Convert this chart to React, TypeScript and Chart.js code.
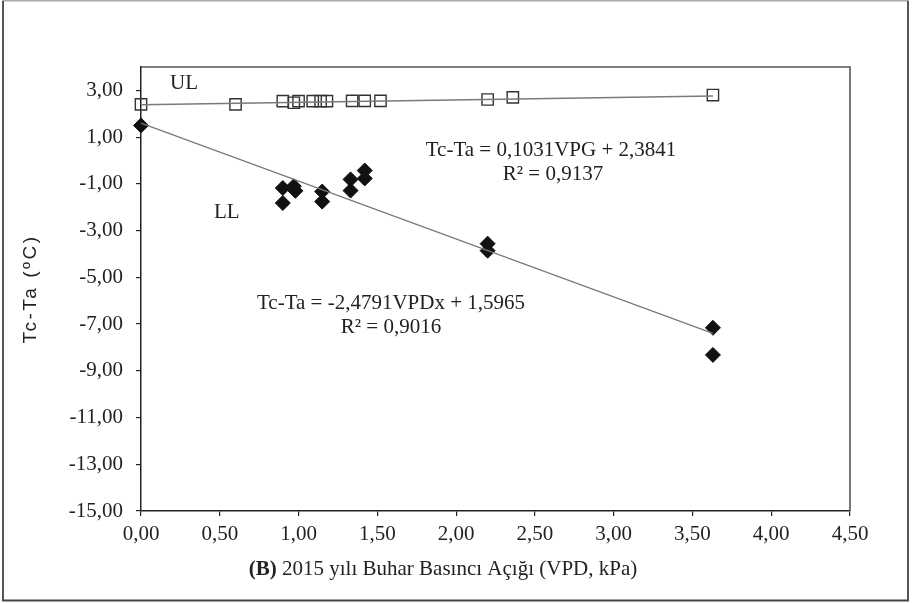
import { useEffect, useRef } from "react";
import { Chart, registerables } from "chart.js";

Chart.register(...registerables);

// ---- data ----
const ulX = [0.0, 0.6, 0.9, 0.97, 1.0, 1.09, 1.14, 1.18, 1.34, 1.42, 1.52, 2.2, 2.36, 3.63];
const ulY = [2.4, 2.4, 2.54, 2.47, 2.54, 2.54, 2.54, 2.54, 2.55, 2.55, 2.55, 2.61, 2.7, 2.8];
const llX = [0.0, 0.9, 0.9, 0.97, 0.98, 1.15, 1.15, 1.33, 1.33, 1.42, 1.42, 2.2, 2.2, 3.63, 3.63];
const llY = [1.5, -1.18, -1.82, -1.1, -1.3, -1.33, -1.76, -0.81, -1.29, -0.43, -0.77, -3.56, -3.86, -7.16, -8.32];

// regression lines as printed on the chart
const ulSlope = 0.1031;
const ulIntercept = 2.3841;
const llSlope = -2.4791;
const llIntercept = 1.5965;

const xTicks = [0, 0.5, 1, 1.5, 2, 2.5, 3, 3.5, 4, 4.5];
const yTicks = [-15, -13, -11, -9, -7, -5, -3, -1, 1, 3];

const ulEquation = ["Tc-Ta = 0,1031VPG + 2,3841", "R² = 0,9137"];
const llEquation = ["Tc-Ta = -2,4791VPDx + 1,5965", "R² = 0,9016"];
const ulLabel = "UL";
const llLabel = "LL";
const xTitleBold = "(B)";
const xTitleRest = " 2015 yılı Buhar Basıncı Açığı (VPD, kPa)";
const yTitle = "Tc-Ta (ºC)";

const fmt = (v: number) => v.toFixed(2).replace(".", ",");
const SERIF = '"Liberation Serif", "Times New Roman", serif';

function trend(xs: number[], slope: number, intercept: number) {
  const lo = Math.min(...xs);
  const hi = Math.max(...xs);
  return [
    { x: lo, y: slope * lo + intercept },
    { x: hi, y: slope * hi + intercept },
  ];
}

const decor = {
  id: "decor",
  beforeDraw(chart: any) {
    const { ctx, width, height } = chart;
    ctx.save();
    ctx.fillStyle = "#ffffff";
    ctx.fillRect(0, 0, width, height);
    ctx.restore();
  },
  afterDraw(chart: any) {
    const { ctx, chartArea: a } = chart;
    ctx.save();
    // plot frame top/right
    ctx.strokeStyle = "#555";
    ctx.lineWidth = 1.6;
    ctx.beginPath();
    ctx.moveTo(a.left, a.top);
    ctx.lineTo(a.right, a.top);
    ctx.lineTo(a.right, a.bottom);
    ctx.stroke();

    // outer border
    ctx.strokeStyle = "#aaa";
    ctx.lineWidth = 1.5;
    ctx.beginPath();
    ctx.moveTo(3, 0.75);
    ctx.lineTo(908, 0.75);
    ctx.stroke();
    ctx.strokeStyle = "#444";
    ctx.lineWidth = 1.8;
    ctx.beginPath();
    ctx.moveTo(3, 0.75);
    ctx.lineTo(3, 600.5);
    ctx.lineTo(908, 600.5);
    ctx.lineTo(908, 0.75);
    ctx.stroke();

    // annotations
    ctx.fillStyle = "#222";
    ctx.font = `21px ${SERIF}`;
    ctx.textBaseline = "alphabetic";
    ctx.textAlign = "left";
    ctx.fillText(ulLabel, 170, 89);
    ctx.fillText(llLabel, 214, 218);
    ctx.textAlign = "center";
    ctx.fillText(ulEquation[0], 551, 156);
    ctx.fillText(ulEquation[1], 553, 180);
    ctx.fillText(llEquation[0], 391, 309);
    ctx.fillText(llEquation[1], 391, 333);

    // x title with bold prefix
    ctx.textAlign = "left";
    ctx.font = `bold 21px ${SERIF}`;
    const w1 = ctx.measureText(xTitleBold).width;
    ctx.font = `21px ${SERIF}`;
    const w2 = ctx.measureText(xTitleRest).width;
    const sx = 443 - (w1 + w2) / 2;
    ctx.font = `bold 21px ${SERIF}`;
    ctx.fillText(xTitleBold, sx, 575);
    ctx.font = `21px ${SERIF}`;
    ctx.fillText(xTitleRest, sx + w1, 575);

    // y title (sans, rotated), centred on the plot area
    ctx.translate(31, (a.top + a.bottom) / 2);
    ctx.rotate(-Math.PI / 2);
    ctx.font = '19px "Liberation Sans", Arial, sans-serif';
    (ctx as any).letterSpacing = "2.5px";
    ctx.textAlign = "center";
    ctx.textBaseline = "middle";
    ctx.fillText(yTitle, 0, 0);
    ctx.restore();
  },
};

export default function App() {
  const ref = useRef<HTMLCanvasElement | null>(null);

  useEffect(() => {
    if (!ref.current) return;
    const chart = new Chart(ref.current, {
      type: "scatter",
      data: {
        datasets: [
          {
            type: "line",
            data: trend(ulX, ulSlope, ulIntercept),
            borderColor: "#7a7a7a",
            borderWidth: 1.3,
            pointRadius: 0,
            fill: false,
            order: 0,
            clip: false,
          } as any,
          {
            type: "line",
            data: trend(llX, llSlope, llIntercept),
            borderColor: "#7a7a7a",
            borderWidth: 1.3,
            pointRadius: 0,
            fill: false,
            order: 0,
            clip: false,
          } as any,
          {
            data: ulX.map((x, i) => ({ x, y: ulY[i] })),
            pointStyle: "rect",
            pointRadius: 8,
            pointBackgroundColor: "rgba(255,255,255,0)",
            pointBorderColor: "#333",
            pointBorderWidth: 1.4,
            order: 1,
            clip: false,
          } as any,
          {
            data: llX.map((x, i) => ({ x, y: llY[i] })),
            pointStyle: "rectRot",
            pointRadius: 7.5,
            pointBackgroundColor: "#111",
            pointBorderColor: "#111",
            pointBorderWidth: 1,
            order: 1,
            clip: false,
          } as any,
        ],
      },
      options: {
        animation: false,
        responsive: false,
        devicePixelRatio: 1,
        layout: { padding: { left: 0, top: 67, right: 62, bottom: 0 } },
        plugins: {
          legend: { display: false },
          tooltip: { enabled: false },
        },
        scales: {
          x: {
            type: "linear",
            min: 0,
            max: 4.5,
            afterBuildTicks: (s: any) => {
              s.ticks = xTicks.map((v) => ({ value: v }));
            },
            afterFit: (s: any) => {
              s.height = 92;
            },
            ticks: {
              callback: (v: any) => fmt(Number(v)),
              font: { family: SERIF, size: 21 },
              color: "#222",
              padding: 6,
              maxRotation: 0,
              autoSkip: false,
            },
            grid: {
              display: true,
              drawOnChartArea: false,
              drawTicks: true,
              tickLength: 5,
              color: "#222",
              lineWidth: 1.2,
            },
            border: { display: true, color: "#222", width: 1.5 },
          },
          y: {
            type: "linear",
            min: -15,
            max: 4,
            afterBuildTicks: (s: any) => {
              s.ticks = yTicks.map((v) => ({ value: v }));
            },
            afterFit: (s: any) => {
              s.width = 141;
            },
            ticks: {
              callback: (v: any) => fmt(Number(v)),
              font: { family: SERIF, size: 21 },
              color: "#222",
              padding: 13,
              autoSkip: false,
            },
            grid: {
              display: true,
              drawOnChartArea: false,
              drawTicks: true,
              tickLength: 5,
              color: "#222",
              lineWidth: 1.2,
            },
            border: { display: true, color: "#222", width: 1.5 },
          },
        },
      },
      plugins: [decor],
    });
    return () => chart.destroy();
  }, []);

  return (
    <div style={{ position: "fixed", left: 0, top: 0, width: 912, height: 603, background: "#fff" }}>
      <canvas ref={ref} width={912} height={603} style={{ display: "block", width: 912, height: 603 }} />
    </div>
  );
}
